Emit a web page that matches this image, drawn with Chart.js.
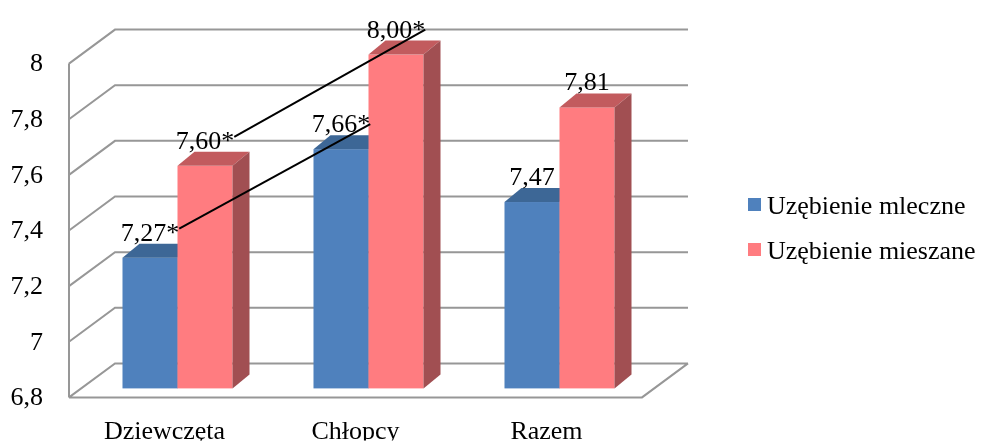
<!DOCTYPE html>
<html lang="pl">
<head>
<meta charset="utf-8">
<title>Uzębienie</title>
<script src="https://cdn.jsdelivr.net/npm/chart.js@4.4.1/dist/chart.umd.min.js"></script>
<style>
  html, body { margin: 0; padding: 0; background: #fff; }
</style>
</head>
<body>
<canvas id="myChart" width="983" height="443"></canvas>
<script>
// DANE : ---------------------------------------------------------------
const kategorie = ['Dziewczęta', 'Chłopcy', 'Razem'];
const mleczne = [7.27, 7.66, 7.47];
const mieszane = [7.60, 8.00, 7.81];
// gwiazdka = różnica istotna statystycznie
const gwiazdkiMleczne = ['*', '*', ''];
const gwiazdkiMieszane = ['*', '*', ''];
const osMin = 6.8;
const osMax = 8;
const osKrok = 0.2;

// USTAWIENIA : ---------------------------------------------------------
const ctx = document.getElementById('myChart');
const FONT = '"Liberation Serif", "Times New Roman", serif';
const PRZOD = { dx: -13, dy: 9 };         // przednia krawędź względem płaszczyzny słupków
const SCIANA = { dx: 46, dy: -34 };       // głębokość ścian
const SLUPEK = { dx: 17, dy: -14 };       // głębokość słupka

const przecinek = v => v.toFixed(2).replace('.', ',');

function wielokat(c, pkt, kolor) {
  c.beginPath();
  c.moveTo(pkt[0][0], pkt[0][1]);
  pkt.slice(1).forEach(p => c.lineTo(p[0], p[1]));
  c.closePath();
  c.fillStyle = kolor;
  c.fill();
}

// siatka 3D : ściana boczna, tylna i podłoga
const siatka3d = {
  id: 'siatka3d',
  beforeDatasetsDraw(chart) {
    const { ctx: c, chartArea: a, scales: { y } } = chart;
    const xl = a.left + PRZOD.dx;
    const xr = a.right + PRZOD.dx;
    const y0 = y.getPixelForValue(osMin) + PRZOD.dy;
    c.save();
    c.strokeStyle = '#979797';
    c.lineWidth = 2;
    c.beginPath();
    y.ticks.forEach(t => {
      const yf = y.getPixelForValue(t.value) + PRZOD.dy;
      c.moveTo(xl, yf);
      c.lineTo(xl + SCIANA.dx, yf + SCIANA.dy);
      c.lineTo(xr + SCIANA.dx, yf + SCIANA.dy);
    });
    c.moveTo(xl, y0);
    c.lineTo(xr, y0);
    c.lineTo(xr + SCIANA.dx, y0 + SCIANA.dy);
    c.moveTo(xl, y.getPixelForValue(osMax) + PRZOD.dy);
    c.lineTo(xl, y0);
    c.stroke();
    c.restore();
  }
};

// słupki 3D + etykiety wartości
const slupki3d = {
  id: 'slupki3d',
  beforeDatasetDraw() {
    return false; // rysujemy sami w afterDatasetsDraw
  },
  afterDatasetsDraw(chart) {
    const c = chart.ctx;
    const metas = chart.getSortedVisibleDatasetMetas();
    const etykiety = [];

    kategorie.forEach((_, i) => {
      metas.forEach(meta => {
        const ds = chart.data.datasets[meta.index];
        const { x, y, base, width } = meta.data[i].getProps(['x', 'y', 'base', 'width'], true);
        const x0 = x - width / 2;
        const x1 = x + width / 2;
        const { dx, dy } = SLUPEK;
        c.fillStyle = ds.backgroundColor;
        c.fillRect(x0, y, width, base - y);
        wielokat(c, [[x0, y], [x0 + dx, y + dy], [x1 + dx, y + dy], [x1, y]], ds.kolorGora);
        wielokat(c, [[x1, y], [x1 + dx, y + dy], [x1 + dx, base + dy], [x1, base]], ds.kolorBok);
        etykiety.push({ ds: meta.index, i, x, y: y + dy - 3, tekst: przecinek(ds.data[i]) + ds.gwiazdki[i] });
      });
    });

    c.save();
    c.font = '26px ' + FONT;
    c.fillStyle = '#000';
    c.textAlign = 'center';
    c.textBaseline = 'alphabetic';
    etykiety.forEach(e => {
      c.fillText(e.tekst, e.x, e.y);
      e.prawa = e.x + c.measureText(e.tekst).width / 2;
    });

    // linie łączące wartości z gwiazdką (dziewczęta - chłopcy)
    c.strokeStyle = '#000';
    c.lineWidth = 2;
    metas.forEach(meta => {
      const a = etykiety.find(e => e.ds === meta.index && e.i === 0);
      const b = etykiety.find(e => e.ds === meta.index && e.i === 1);
      if (!a.tekst.endsWith('*') || !b.tekst.endsWith('*')) return;
      c.beginPath();
      c.moveTo(a.prawa, a.y - 12);
      c.lineTo(b.prawa, b.y - 8);
      c.stroke();
    });
    c.restore();
  }
};

// legenda po prawej
const legenda = {
  id: 'legenda',
  afterDraw(chart) {
    const c = chart.ctx;
    c.save();
    c.font = '26px ' + FONT;
    c.textAlign = 'left';
    c.textBaseline = 'alphabetic';
    chart.data.datasets.forEach((ds, k) => {
      const ys = 205 + k * 45;
      c.fillStyle = ds.backgroundColor;
      c.fillRect(748, ys - 7, 13, 13);
      c.fillStyle = '#000';
      c.fillText(ds.label, 767, ys + 9);
    });
    c.restore();
  }
};

new Chart(ctx, {
  type: 'bar',
  data: {
    labels: kategorie,
    datasets: [
      {
        label: 'Uzębienie mleczne',
        data: mleczne,
        base: osMin,
        gwiazdki: gwiazdkiMleczne,
        backgroundColor: '#4F81BD',
        kolorGora: '#3D6796',
        kolorBok: '#3B5F8D'
      },
      {
        label: 'Uzębienie mieszane',
        data: mieszane,
        base: osMin,
        gwiazdki: gwiazdkiMieszane,
        backgroundColor: '#FF7C80',
        kolorGora: '#C25B5E',
        kolorBok: '#A14F52'
      }
    ]
  },
  options: {
    responsive: false,
    animation: false,
    layout: { padding: { left: 10, right: 328, top: 49, bottom: 0 } },
    datasets: { bar: { barPercentage: 1, categoryPercentage: 0.576 } },
    scales: {
      x: {
        grid: { display: false, drawTicks: false },
        border: { display: false },
        ticks: { color: '#000', font: { family: FONT, size: 26 }, padding: 28, labelOffset: -13 },
        afterFit: s => { s.height = 52; }
      },
      y: {
        min: osMin,
        max: osMax,
        grid: { display: false, drawTicks: false },
        border: { display: false },
        ticks: {
          stepSize: osKrok,
          color: '#000',
          font: { family: FONT, size: 26 },
          padding: 39,
          labelOffset: 10,
          callback: v => String(Number(v.toFixed(1))).replace('.', ',')
        },
        afterFit: s => { s.width = 72; }
      }
    },
    plugins: {
      legend: { display: false },
      tooltip: { enabled: false }
    }
  },
  plugins: [siatka3d, slupki3d, legenda]
});
</script>
</body>
</html>
